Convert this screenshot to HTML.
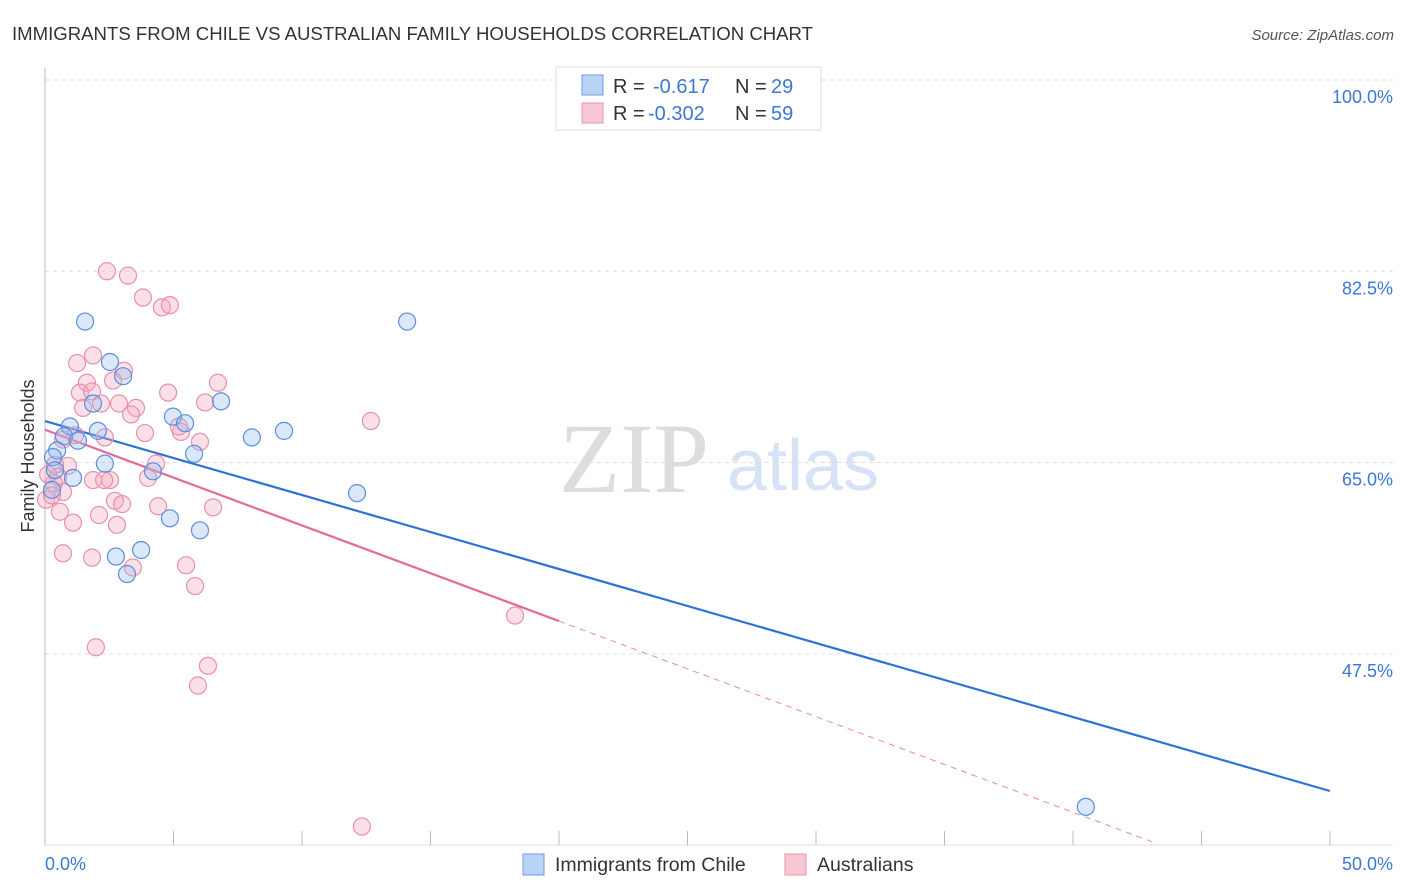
<!DOCTYPE html>
<html><head><meta charset="utf-8"><style>
html,body{margin:0;padding:0;background:#fff;}
svg{display:block;font-family:"Liberation Sans",sans-serif;}
</style></head><body>
<svg id="chart" width="1406" height="892" viewBox="0 0 1406 892">
<text x="12" y="40" font-size="18" fill="#333" textLength="801" lengthAdjust="spacingAndGlyphs">IMMIGRANTS FROM CHILE VS AUSTRALIAN FAMILY HOUSEHOLDS CORRELATION CHART</text>
<text x="1394" y="40" font-size="15" fill="#555" font-style="italic" text-anchor="end">Source: ZipAtlas.com</text>
<g>
<text x="634" y="492" font-size="100" font-family="Liberation Serif,serif" fill="#ddd" text-anchor="middle">ZIP</text>
<text x="803" y="490" font-size="72" fill="#d6e3f5" text-anchor="middle">atlas</text>
</g>
<g id="grid"></g>
<g id="axes"></g>
<g id="lines"></g>
<g id="points"></g>
<text x="34" y="456" font-size="18" fill="#333" text-anchor="middle" transform="rotate(-90 34 456)">Family Households</text>
<text x="45" y="870" font-size="18" fill="#3a78d8">0.0%</text>
<text x="1393" y="870" font-size="18" fill="#3a78d8" text-anchor="end">50.0%</text>
<g>
<rect x="556" y="67" width="265" height="63" fill="#fff" stroke="#ddd"/>
<rect x="582" y="75" width="21" height="20" fill="#b9d3f5" stroke="#6a9be0"/>
<text x="613" y="93" font-size="20" fill="#333">R = </text>
<text x="653" y="93" font-size="20" fill="#3a78d8">-0.617</text>
<text x="735" y="93" font-size="20" fill="#333">N =</text>
<text x="771" y="93" font-size="20" fill="#3a78d8">29</text>
<rect x="582" y="103" width="21" height="20" fill="#f9c6d4" stroke="#e894ad"/>
<text x="613" y="120" font-size="20" fill="#333">R = </text>
<text x="648" y="120" font-size="20" fill="#3a78d8">-0.302</text>
<text x="735" y="120" font-size="20" fill="#333">N =</text>
<text x="771" y="120" font-size="20" fill="#3a78d8">59</text>
</g>
<g>
<rect x="523" y="854" width="21" height="21" fill="#b9d3f5" stroke="#6a9be0"/>
<text x="555" y="871" font-size="19.5" fill="#333">Immigrants from Chile</text>
<rect x="785" y="854" width="21" height="21" fill="#f9c6d4" stroke="#e894ad"/>
<text x="817" y="871" font-size="19.5" fill="#333">Australians</text>
</g>
</svg>
<script>
const yTicks=[100,82.5,65,47.5];
const yTickLabels=["100.0%","82.5%","65.0%","47.5%"];
const xTicks=[0,5,10,15,20,25,30,35,40,45,50];
const chileX=[1.56,14.09,2.53,3.04,1.87,6.85,4.98,5.45,0.97,2.06,0.74,1.28,8.05,9.30,5.80,0.47,2.33,0.31,1.09,4.20,12.14,4.86,6.03,3.74,2.76,3.19,40.5,0.39,0.27];
const chileY=[77.9,77.9,74.2,72.9,70.4,70.6,69.2,68.6,68.3,67.9,67.4,67.0,67.3,67.9,65.8,66.1,64.9,65.5,63.6,64.2,62.2,59.9,58.8,57.0,56.4,54.8,33.5,64.3,62.5];
const ausX=[2.41,3.23,3.81,4.55,4.86,1.87,1.25,3.07,2.65,1.63,6.73,4.79,1.36,1.83,2.18,1.48,2.88,3.54,3.35,6.23,12.68,3.89,5.29,2.33,6.03,1.17,0.70,5.21,0.89,4.32,1.87,2.53,2.30,0.51,0.70,0.35,0.04,0.27,4.01,2.72,3.00,4.40,6.54,2.10,0.58,1.09,2.80,5.49,3.42,0.70,1.83,5.84,18.29,1.98,6.34,5.95,12.33,0.12,0.39];
const ausY=[82.5,82.1,80.1,79.2,79.4,74.8,74.1,73.4,72.5,72.3,72.3,71.4,71.4,71.5,70.4,70.0,70.4,70.0,69.4,70.5,68.8,67.7,67.8,67.3,66.9,67.5,67.1,68.3,64.7,64.9,63.4,63.4,63.4,63.7,62.3,63.1,61.6,62.0,63.6,61.5,61.2,61.0,60.9,60.2,60.5,59.5,59.3,55.6,55.4,56.7,56.3,53.7,51.0,48.1,46.4,44.6,31.7,63.9,64.8];
const chileTrend=[68.8,-0.677];
const ausTrend=[68.0,-0.875];
const ausSolidEnd=20;

const X0=45,X1=1330,Y100=80,PXPER=10.93;
const sx=v=>X0+(X1-X0)*v/50;
const sy=v=>Y100+(100-v)*PXPER;
const NS="http://www.w3.org/2000/svg";
function mk(tag,attrs,parent){const e=document.createElementNS(NS,tag);for(const k in attrs)e.setAttribute(k,attrs[k]);parent.appendChild(e);return e;}
const grid=document.getElementById('grid'),axes=document.getElementById('axes'),lines=document.getElementById('lines'),pts=document.getElementById('points');
yTicks.forEach((t,i)=>{
 const l=mk('line',{x1:X0,x2:1393,y1:sy(t),y2:sy(t),stroke:'#ddd','stroke-dasharray':'4 4'},grid);
 
 
 const tx=mk('text',{x:1393,y:sy(t)+23,'font-size':18,fill:'#3a78d8','text-anchor':'end'},grid);
 tx.textContent=yTickLabels[i];
 
 
});
const ya=mk('line',{x1:X0,x2:X0,y1:68,y2:845,stroke:'#bbb'},axes);


const xa=mk('line',{x1:X0,x2:1393,y1:845,y2:845,stroke:'#ddd'},axes);


xTicks.forEach(t=>{
 const l=mk('line',{x1:sx(t),x2:sx(t),y1:831,y2:845,stroke:'#bbb'},axes);
 
 
});
function dot(x,y,fill,stroke,name){
 const c=mk('circle',{cx:sx(x),cy:sy(y),r:8.5,fill:fill,stroke:stroke,'stroke-width':1.2},pts);
 
 
}
ausX.forEach((x,i)=>dot(x,ausY[i],'rgba(245,165,188,0.35)','#ea8fab','australians-point'));
chileX.forEach((x,i)=>dot(x,chileY[i],'rgba(150,190,240,0.35)','#5a8fdc','chile-point'));
const bl=mk('line',{x1:sx(0),y1:sy(chileTrend[0]),x2:sx(50),y2:sy(chileTrend[0]+chileTrend[1]*50),stroke:'#2f72d6','stroke-width':2.2},lines);


const pl=mk('line',{x1:sx(0),y1:sy(ausTrend[0]),x2:sx(ausSolidEnd),y2:sy(ausTrend[0]+ausTrend[1]*ausSolidEnd),stroke:'#e46b93','stroke-width':2.2},lines);


const xEnd=(100-(843-Y100)/PXPER-ausTrend[0])/ausTrend[1];
const pd=mk('line',{x1:sx(ausSolidEnd),y1:sy(ausTrend[0]+ausTrend[1]*ausSolidEnd),x2:sx(xEnd),y2:sy(ausTrend[0]+ausTrend[1]*xEnd),stroke:'#e88aa8','stroke-width':1,'stroke-dasharray':'6 5'},lines);


</script>
</body></html>
